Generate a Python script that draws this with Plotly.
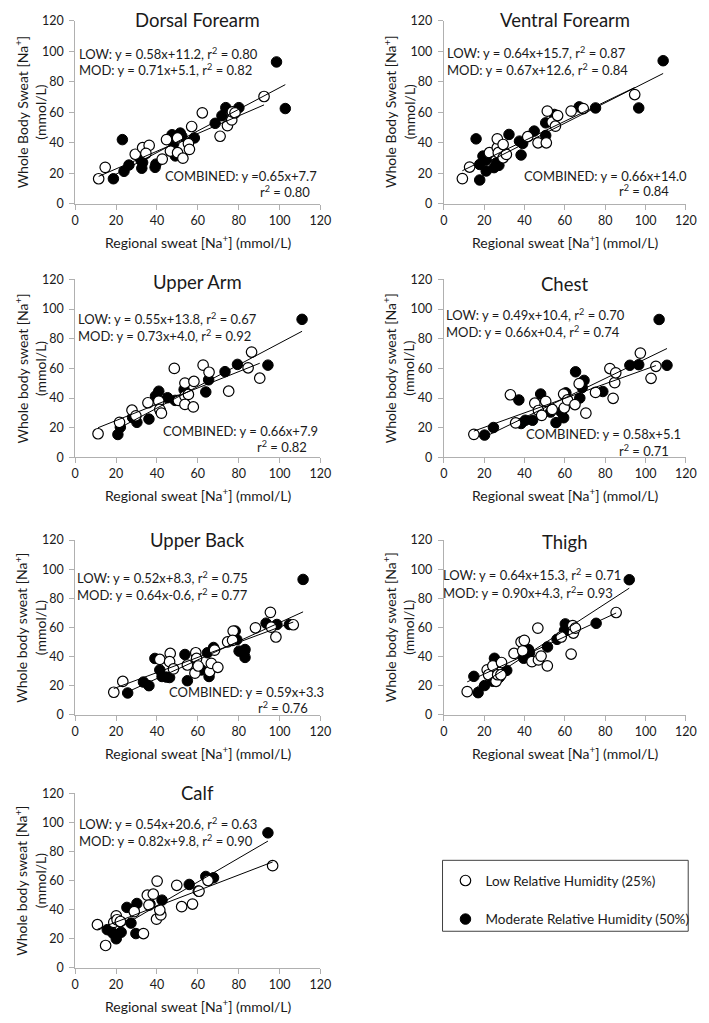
import plotly.graph_objects as go

# ---------------- DATA ----------------
panel_names = ["Dorsal Forearm", "Ventral Forearm", "Upper Arm", "Chest",
               "Upper Back", "Thigh", "Calf"]

# Dorsal Forearm
dorsal_low_x = [11.5, 14.7, 29.4, 33.0, 36.2, 34.6, 42.6, 44.7, 46.6, 50.1, 50.1, 52.7,
                55.4, 55.9, 57.0, 62.2, 70.9, 74.5, 76.6, 76.9, 78.2, 92.4]
dorsal_low_y = [16.3, 23.8, 32.4, 36.7, 38.2, 33.0, 29.2, 42.0, 34.5, 33.4, 43.1, 29.8,
                39.4, 35.6, 50.6, 59.6, 44.2, 51.2, 54.9, 60.2, 59.6, 70.3]
dorsal_mod_x = [18.7, 23.1, 23.9, 26.3, 32.2, 32.6, 33.0, 39.1, 39.5, 47.4, 48.2, 49.0,
                51.4, 52.2, 58.3, 68.5, 71.8, 73.7, 80.1, 98.5, 102.8]
dorsal_mod_y = [16.3, 42.0, 21.2, 25.3, 28.5, 23.2, 27.0, 23.8, 25.9, 45.2, 39.4, 31.3,
                46.3, 44.2, 43.1, 52.7, 57.7, 63.0, 63.0, 93.0, 62.4]

# Ventral Forearm
ventral_low_x = [9.2, 12.8, 22.6, 26.5, 26.5, 27.0, 29.4, 29.4, 31.0, 41.6, 46.7, 50.8,
                 51.3, 53.7, 55.3, 56.4, 63.1, 69.1, 94.6]
ventral_low_y = [16.4, 24.0, 33.4, 36.7, 42.5, 33.4, 38.8, 30.1, 32.3, 43.9, 39.9, 39.9,
                 60.7, 53.5, 50.8, 57.8, 60.7, 62.4, 71.6]
ventral_mod_x = [16.0, 17.8, 17.8, 19.4, 21.0, 21.0, 24.9, 26.2, 27.3, 32.3, 37.5, 38.3,
                 39.1, 44.8, 50.5, 50.5, 54.8, 67.1, 75.2, 96.6, 108.7]
ventral_mod_y = [42.5, 15.5, 25.7, 31.2, 21.4, 28.6, 23.6, 26.8, 25.1, 45.4, 41.0, 31.9,
                 39.5, 47.6, 53.0, 44.7, 58.5, 63.5, 62.8, 62.8, 93.8]

# Upper Arm
upperarm_low_x = [11.2, 21.7, 27.8, 29.7, 35.6, 40.9, 41.4, 42.2, 48.5, 50.5, 53.7, 53.7,
                  53.7, 55.4, 57.8, 58.1, 62.6, 65.5, 75.1, 84.6, 86.3, 90.3]
upperarm_low_y = [15.9, 23.6, 31.8, 28.0, 36.8, 37.9, 32.4, 29.8, 60.0, 38.4, 50.1, 41.3,
                  35.7, 42.4, 34.0, 51.2, 62.2, 57.4, 44.6, 60.4, 71.0, 53.4]
upperarm_mod_x = [20.9, 22.1, 28.1, 30.2, 36.1, 39.3, 40.9, 41.7, 45.2, 48.9, 53.3, 55.0,
                  63.9, 65.3, 73.3, 79.4, 94.3, 111.0]
upperarm_mod_y = [15.4, 20.3, 26.9, 23.6, 25.8, 41.3, 44.6, 31.3, 40.2, 38.4, 45.7, 42.4,
                  44.1, 52.3, 57.8, 62.7, 62.2, 93.1]

# Chest
chest_low_x = [14.9, 33.0, 35.6, 45.1, 46.9, 48.5, 50.5, 53.7, 59.4, 59.7, 61.3, 65.0,
               67.1, 70.4, 75.2, 82.3, 83.9, 84.7, 85.2, 97.4, 102.7, 105.1]
chest_low_y = [15.5, 42.2, 23.2, 36.5, 31.6, 28.3, 37.8, 32.3, 42.7, 33.4, 38.7, 35.6,
               49.7, 29.8, 43.8, 59.9, 39.8, 50.4, 57.0, 70.3, 53.3, 61.4]
chest_mod_x = [20.2, 24.6, 37.2, 38.3, 40.4, 44.0, 48.0, 52.9, 55.6, 58.2, 59.4, 60.5,
               65.3, 67.4, 68.6, 69.5, 78.8, 92.2, 96.6, 106.7, 110.6]
chest_mod_y = [15.0, 20.1, 38.7, 22.8, 25.0, 25.0, 42.7, 30.5, 23.4, 30.5, 26.7, 43.5,
               57.7, 40.0, 47.1, 51.9, 44.4, 62.1, 62.5, 93.0, 62.1]

# Upper Back
upperback_low_x = [18.9, 23.3, 41.4, 46.5, 46.2, 48.1, 54.9, 58.6, 59.0, 59.4, 60.2, 65.8,
                   66.6, 69.8, 68.2, 74.6, 77.3, 77.0, 88.2, 95.5, 95.9, 98.2, 106.7]
upperback_low_y = [15.6, 23.0, 38.1, 42.2, 36.6, 31.6, 34.3, 28.7, 42.7, 38.8, 33.6, 29.8,
                   35.4, 32.7, 44.5, 50.1, 57.6, 51.2, 59.8, 70.4, 60.3, 53.5, 61.9]
upperback_mod_x = [25.7, 33.4, 36.1, 39.0, 41.4, 42.5, 44.6, 46.2, 53.7, 54.9, 61.8, 64.7,
                   65.5, 67.7, 78.3, 79.1, 80.2, 82.6, 83.1, 83.1, 93.4, 98.7, 104.8, 111.5]
upperback_mod_y = [15.1, 22.6, 20.1, 38.8, 30.9, 26.4, 26.0, 25.7, 41.5, 23.5, 30.9, 42.7,
                   26.4, 46.3, 57.6, 51.7, 43.8, 42.7, 44.9, 39.5, 63.0, 62.1, 62.1, 93.0]

# Thigh
thigh_low_x = [11.6, 21.5, 22.2, 24.3, 25.9, 26.7, 28.6, 28.3, 34.8, 38.3, 39.1, 39.9,
               43.7, 46.6, 46.9, 48.2, 51.3, 58.2, 63.1, 63.9, 64.2, 65.2, 85.4]
thigh_low_y = [16.0, 31.0, 27.6, 33.7, 23.1, 27.6, 36.0, 27.6, 42.2, 50.1, 44.0, 51.2,
               36.6, 59.6, 37.8, 40.4, 33.7, 53.5, 41.8, 61.3, 56.2, 59.6, 70.3]
thigh_mod_x = [14.9, 17.0, 20.2, 25.1, 24.3, 27.5, 31.2, 39.6, 41.2, 42.0, 42.5, 51.4,
               56.1, 59.8, 60.2, 61.0, 75.5, 91.9]
thigh_mod_y = [26.5, 15.3, 20.2, 38.9, 23.1, 25.8, 30.6, 38.9, 43.4, 44.9, 42.7, 46.7,
               51.9, 58.0, 62.5, 60.7, 62.9, 92.8]

# Calf
calf_low_x = [10.9, 14.9, 18.9, 20.1, 20.5, 22.1, 28.9, 33.4, 35.3, 36.1, 38.2, 40.1,
              39.8, 41.9, 41.4, 49.7, 52.1, 57.4, 60.6, 65.0, 96.6]
calf_low_y = [29.6, 15.3, 31.2, 35.7, 33.0, 31.8, 38.6, 23.5, 49.9, 43.1, 50.6, 59.6,
              33.4, 36.3, 39.7, 56.7, 42.0, 43.8, 52.6, 60.0, 70.2]
calf_mod_x = [15.7, 18.4, 20.1, 22.5, 25.3, 27.3, 28.6, 30.2, 29.7, 36.6, 42.5, 55.8,
              60.2, 63.9, 67.7, 94.3]
calf_mod_y = [26.2, 23.9, 19.9, 24.4, 41.5, 30.7, 40.2, 44.2, 23.5, 43.8, 46.5, 57.3,
              52.8, 62.8, 61.9, 92.8]

low_x = [dorsal_low_x, ventral_low_x, upperarm_low_x, chest_low_x, upperback_low_x, thigh_low_x, calf_low_x]
low_y = [dorsal_low_y, ventral_low_y, upperarm_low_y, chest_low_y, upperback_low_y, thigh_low_y, calf_low_y]
mod_x = [dorsal_mod_x, ventral_mod_x, upperarm_mod_x, chest_mod_x, upperback_mod_x, thigh_mod_x, calf_mod_x]
mod_y = [dorsal_mod_y, ventral_mod_y, upperarm_mod_y, chest_mod_y, upperback_mod_y, thigh_mod_y, calf_mod_y]

# Regression coefficients
low_slope = [0.58, 0.64, 0.55, 0.49, 0.52, 0.64, 0.54]
low_icept = [11.2, 15.7, 13.8, 10.4, 8.3, 15.3, 20.6]
mod_slope = [0.71, 0.67, 0.73, 0.66, 0.64, 0.90, 0.82]
mod_icept = [5.1, 12.6, 4.0, 0.4, -0.6, 4.3, 9.8]

low_labels = ["LOW: y = 0.58x+11.2, r<sup>2</sup> = 0.80",
              "LOW: y = 0.64x+15.7, r<sup>2</sup> = 0.87",
              "LOW: y = 0.55x+13.8, r<sup>2</sup> = 0.67",
              "LOW: y = 0.49x+10.4, r<sup>2</sup> = 0.70",
              "LOW: y = 0.52x+8.3, r<sup>2</sup> = 0.75",
              "LOW: y = 0.64x+15.3, r<sup>2</sup> = 0.71",
              "LOW: y = 0.54x+20.6, r<sup>2</sup> = 0.63"]
mod_labels = ["MOD: y = 0.71x+5.1, r<sup>2</sup> = 0.82",
              "MOD: y = 0.67x+12.6, r<sup>2</sup> = 0.84",
              "MOD: y = 0.73x+4.0, r<sup>2</sup> = 0.92",
              "MOD: y = 0.66x+0.4, r<sup>2</sup> = 0.74",
              "MOD: y = 0.64x-0.6, r<sup>2</sup> = 0.77",
              "MOD: y = 0.90x+4.3, r<sup>2</sup>= 0.93",
              "MOD: y = 0.82x+9.8, r<sup>2</sup> = 0.90"]
combined_labels = ["COMBINED: y =0.65x+7.7", "COMBINED: y = 0.66x+14.0",
                   "COMBINED: y = 0.66x+7.9", "COMBINED: y = 0.58x+5.1",
                   "COMBINED: y = 0.59x+3.3", None, None]
combined_r2 = ["r<sup>2</sup> = 0.80", "r<sup>2</sup> = 0.84", "r<sup>2</sup> = 0.82",
               "r<sup>2</sup> = 0.71", "r<sup>2</sup> = 0.76", None, None]

y_titles = ["Whole Body Sweat [Na<sup>+</sup>]<br>(mmol/L)"] * 2 + \
           ["Whole body sweat [Na<sup>+</sup>]<br>(mmol/L)"] * 5
x_title = "Regional sweat [Na<sup>+</sup>] (mmol/L)"
legend_names = ["Low Relative Humidity (25%)", "Moderate Relative Humidity (50%)"]
tick_vals = [0, 20, 40, 60, 80, 100, 120]

# ---------------- LAYOUT (pixels) ----------------
W, H = 709, 1023
FONT = "Lato, 'Open Sans', sans-serif"
TXT = "#1a1a1a"
AX = "#b0b0b0"
AXMAX = 120.0
col_px = [(72.7, 323.3), (449.3, 696.7)]
row_px = [(13, 198.5), (275.5, 456), (540, 717.5), (797, 974)]
title_py = [11.7, 11.7, 278.3, 280, 540, 541.7, 796.7]
# label anchor positions in axis units (converted to axis-domain fractions)
low_pos = [(1.1, 98.4), (0.8, 99.3), (0.3, 93.5), (0.3, 96.1), (0.0, 94.1), (-1.6, 96.2), (0.8, 99.5)]
mod_pos = [(1.1, 87.9), (0.8, 87.9), (0.3, 82.5), (0.3, 84.6), (0.0, 82.4), (-1.6, 84.3), (0.8, 87.6)]
comb_pos = [(119.5, 18.4), (121.6, 18.1), (119.8, 17.6), (118.7, 15.7), (122.7, 15.5)]
r2_pos = [(116.0, 8.1), (112.7, 8.3), (114.2, 7.1), (112.7, 4.6), (115.0, 5.0)]
EQ_SIZE = 13

def fx(p):
    return p / W

def fy(p):
    return 1 - p / H

fig = go.Figure()
annotations = []
layout_axes = {}

for i, name in enumerate(panel_names):
    r, c = divmod(i, 2)
    n = "" if i == 0 else str(i + 1)
    xa, ya = "x" + n, "y" + n
    x0, x1 = col_px[c]
    y0, y1 = row_px[r]
    axis_common = dict(range=[0, 120], tickvals=tick_vals, showline=True, linecolor=AX,
                       linewidth=1, ticks="outside", ticklen=5, tickcolor=AX,
                       showgrid=False, zeroline=False,
                       tickfont=dict(family=FONT, size=12.5, color=TXT))
    layout_axes["xaxis" + n] = dict(axis_common, domain=[fx(x0), fx(x1)], anchor=ya)
    layout_axes["yaxis" + n] = dict(axis_common, domain=[fy(y1), fy(y0)], anchor=xa,
                                    ticklabelstandoff=3)

    # points: moderate (filled) below, low (open) above
    fig.add_trace(go.Scatter(x=mod_x[i], y=mod_y[i], mode="markers", xaxis=xa, yaxis=ya,
                             name=legend_names[1], legendgroup="mod", legendrank=2,
                             showlegend=(i == 0), cliponaxis=False,
                             marker=dict(size=10.5, color="black", line=dict(color="black", width=1))))
    fig.add_trace(go.Scatter(x=low_x[i], y=low_y[i], mode="markers", xaxis=xa, yaxis=ya,
                             name=legend_names[0], legendgroup="low", legendrank=1,
                             showlegend=(i == 0), cliponaxis=False,
                             marker=dict(size=10.5, color="white", line=dict(color="black", width=1.2))))
    # regression lines over each group's x range
    for xs, m, b in ((low_x[i], low_slope[i], low_icept[i]), (mod_x[i], mod_slope[i], mod_icept[i])):
        lx = [min(xs), max(xs)]
        fig.add_trace(go.Scatter(x=lx, y=[m * v + b for v in lx], mode="lines",
                                 xaxis=xa, yaxis=ya, showlegend=False, hoverinfo="skip",
                                 line=dict(color="black", width=1)))

    xd, yd = xa + " domain", ya + " domain"
    # title
    annotations.append(dict(text=name, xref="paper", yref="paper",
                            x=fx((x0 + x1) / 2), y=fy(title_py[i]),
                            xanchor="center", yanchor="middle", showarrow=False,
                            font=dict(family=FONT, size=18.5, color=TXT)))
    # equations
    annotations.append(dict(text=low_labels[i], xref=xd, yref=yd,
                            x=low_pos[i][0] / AXMAX, y=low_pos[i][1] / AXMAX,
                            xanchor="left", yanchor="middle", showarrow=False,
                            font=dict(family=FONT, size=EQ_SIZE, color=TXT)))
    annotations.append(dict(text=mod_labels[i], xref=xd, yref=yd,
                            x=mod_pos[i][0] / AXMAX, y=mod_pos[i][1] / AXMAX,
                            xanchor="left", yanchor="middle", showarrow=False,
                            font=dict(family=FONT, size=EQ_SIZE, color=TXT)))
    if combined_labels[i]:
        annotations.append(dict(text=combined_labels[i], xref=xd, yref=yd,
                                x=comb_pos[i][0] / AXMAX, y=comb_pos[i][1] / AXMAX,
                                xanchor="right", yanchor="middle", showarrow=False,
                                font=dict(family=FONT, size=EQ_SIZE, color=TXT)))
        annotations.append(dict(text=combined_r2[i], xref=xd, yref=yd,
                                x=r2_pos[i][0] / AXMAX, y=r2_pos[i][1] / AXMAX,
                                xanchor="right", yanchor="middle", showarrow=False,
                                font=dict(family=FONT, size=EQ_SIZE, color=TXT)))
    # axis titles
    annotations.append(dict(text=x_title, xref="paper", yref="paper",
                            x=fx((x0 + x1) / 2), y=fy(y1 + 38),
                            xanchor="center", yanchor="middle", showarrow=False,
                            font=dict(family=FONT, size=14, color=TXT)))
    annotations.append(dict(text=y_titles[i], xref="paper", yref="paper",
                            x=fx(x0 - 46), y=fy((y0 + y1) / 2), textangle=-90,
                            xanchor="center", yanchor="middle", showarrow=False,
                            font=dict(family=FONT, size=14, color=TXT)))

fig.update_layout(
    width=W, height=H, margin=dict(l=0, r=0, t=0, b=0),
    paper_bgcolor="white", plot_bgcolor="white",
    annotations=annotations,
    showlegend=True,
    legend=dict(x=fx(451), y=fy(870), xanchor="left", yanchor="top",
                bgcolor="rgba(0,0,0,0)", borderwidth=0, tracegroupgap=18,
                font=dict(family=FONT, size=13.5, color=TXT)),
    shapes=[dict(type="rect", xref="paper", yref="paper",
                 x0=fx(448), x1=fx(699), y0=fy(937), y1=fy(865),
                 line=dict(color="#404040", width=1))],
    **layout_axes,
)

fig.write_html("out.html", config={"displayModeBar": False},
               post_script="document.body.style.margin='0';document.body.style.overflow='hidden';")
